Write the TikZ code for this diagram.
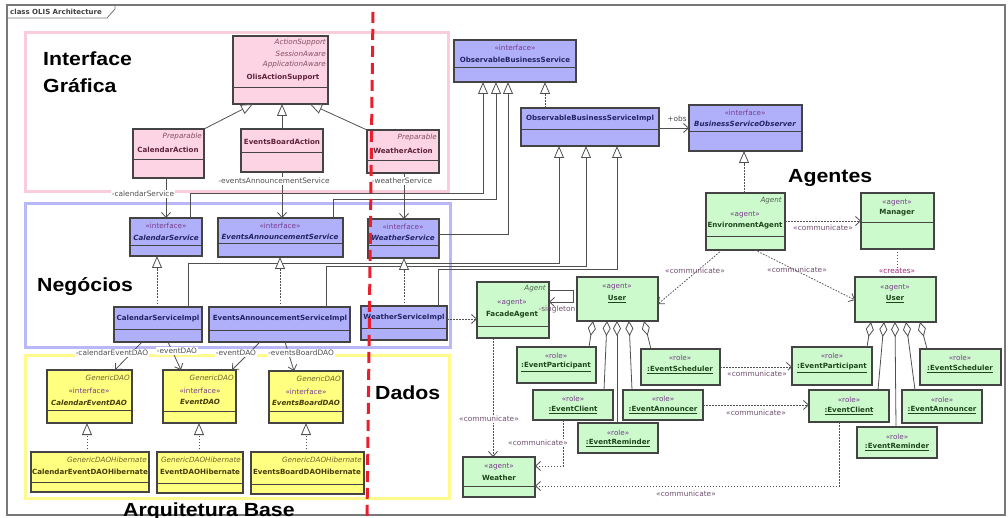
\documentclass[tikz,border=0pt]{standalone}
\usepackage{fontspec}
\usetikzlibrary{arrows.meta,shadows}
\newfontfamily\umlfont{DejaVu Sans}
\newfontfamily\titlefont{Liberation Sans}

\definecolor{pinkfill}{RGB}{253,212,228}
\definecolor{pinkframe}{RGB}{250,205,218}
\definecolor{bluefill}{RGB}{176,176,250}
\definecolor{blueframe}{RGB}{184,184,248}
\definecolor{yelfill}{RGB}{255,255,128}
\definecolor{yelframe}{RGB}{255,250,140}
\definecolor{grnfill}{RGB}{204,250,204}
\definecolor{boxline}{RGB}{68,68,68}
\definecolor{conn}{RGB}{80,80,80}
\definecolor{redline}{RGB}{235,30,45}
\definecolor{framegray}{RGB}{120,120,120}
\definecolor{pinkname}{RGB}{95,35,55}
\definecolor{pinkital}{RGB}{130,80,100}
\definecolor{bluename}{RGB}{35,35,100}
\definecolor{stcol}{RGB}{120,60,140}
\definecolor{yelname}{RGB}{70,60,10}
\definecolor{yelital}{RGB}{110,100,40}
\definecolor{grnname}{RGB}{30,70,30}
\definecolor{grnital}{RGB}{80,100,80}
\definecolor{lblcol}{RGB}{80,80,80}
\definecolor{cmcol}{RGB}{110,80,110}
\definecolor{crcol}{RGB}{160,40,120}

% class box: name, fill, x1, y1, x2, y2, separator y (may be empty)
\newcommand\umlbox[7]{%
  \node[cls, fill=#2, minimum width={(#5-#3)*1pt}, minimum height={(#6-#4)*1pt}]
    (#1) at ({(#3+#5)/2},{(#4+#6)/2}) {};
  \if\relax\detokenize{#7}\relax\else
    \draw[boxline, line width=0.9pt] (#1.west |- 0,#7) -- (#1.east |- 0,#7);
  \fi}

\begin{document}
\begin{tikzpicture}[x=1pt,y=-1pt,
  cls/.style={draw=boxline, line width=1.1pt, inner sep=0pt, outer sep=0pt,
    drop shadow={shadow xshift=1.4pt, shadow yshift=-1.4pt, opacity=0.35}},
  st/.style={font=\umlfont\fontsize{7.2}{8}\selectfont, inner sep=0pt, text=stcol},
  nm/.style={font=\umlfont\bfseries\fontsize{7.1}{8}\selectfont, inner sep=0pt},
  it/.style={font=\umlfont\itshape\fontsize{7.2}{8}\selectfont, inner sep=0pt, anchor=east},
  bit/.style={font=\umlfont\bfseries\itshape\fontsize{7.1}{8}\selectfont, inner sep=0pt},
  lbl/.style={font=\umlfont\fontsize{7.4}{8}\selectfont, inner sep=0.8pt, fill=white, text=lblcol},
  commlbl/.style={lbl, text=cmcol},
  title/.style={font=\titlefont\bfseries\fontsize{19}{22}\selectfont, inner sep=0pt, xscale=1.12, anchor=base west},
  gen/.style={draw=conn, line width=0.8pt, -{Triangle[fill=white, length=12pt, width=10pt]}},
  realz/.style={gen, dash pattern=on 1.5pt off 1.5pt},
  assoc/.style={draw=conn, line width=0.8pt, -{Straight Barb[length=5pt, width=9pt]}},
  dep/.style={assoc, dash pattern=on 1.5pt off 1.5pt},
  aggr/.style={draw=conn, line width=0.8pt, {Diamond[fill=white, length=15pt, width=8pt]}-},
]
\fill[white] (0,0) rectangle (1008,518);
\useasboundingbox (0,0) rectangle (1008,518);

% layer frames
\draw[pinkframe, line width=3pt] (25,33) rectangle (448,192);
\draw[blueframe, line width=3pt] (25,204) rectangle (450,347);
\draw[yelframe, line width=3pt] (25,355) rectangle (449,498);

% diagram frame with its tab
\draw[framegray, line width=1.5pt] (7,5) rectangle (1005,515);
\draw[framegray, line width=0.8pt] (7,18) -- (107,18) -- (115,9) -- (115,5);
\node[font=\umlfont\bfseries\fontsize{7}{8}\selectfont, text=black!75, anchor=west, inner sep=0pt] (frametab) at (10,12) {class OLIS Architecture};

% ---------- presentation layer ----------
\umlbox{olis}{pinkfill}{233}{36}{328}{104}{87}
\umlbox{calact}{pinkfill}{133}{129}{204}{178}{159}
\umlbox{evboard}{pinkfill}{241}{129}{323}{172}{152}
\umlbox{wact}{pinkfill}{367}{130}{439}{173}{160}
\begin{scope}[nm/.append style={text=pinkname}, it/.append style={text=pinkital}]
\node[it] (olis-a) at (326,43) {ActionSupport};
\node[it] (olis-b) at (326,54) {SessionAware};
\node[it] (olis-c) at (326,65) {ApplicationAware};
\node[nm] (olis-n) at (283,78) {OlisActionSupport};
\node[it] (calact-a) at (202,137) {Preparable};
\node[nm] (calact-n) at (168,150) {CalendarAction};
\node[nm] (evboard-n) at (282,142) {EventsBoardAction};
\node[it] (wact-a) at (437,138) {Preparable};
\node[nm] (wact-n) at (403,151) {WeatherAction};
\end{scope}

% ---------- business layer ----------
\umlbox{obs}{bluefill}{454}{40}{576}{82}{67}
\umlbox{obsimpl}{bluefill}{521}{108}{659}{146}{129}
\umlbox{bso}{bluefill}{689}{105}{802}{151}{131}
\umlbox{calsvc}{bluefill}{130}{218}{202}{256}{245}
\umlbox{evsvc}{bluefill}{218}{218}{343}{257}{243}
\umlbox{wsvc}{bluefill}{368}{219}{439}{258}{245}
\umlbox{calimpl}{bluefill}{114}{307}{202}{342}{329}
\umlbox{evimpl}{bluefill}{209}{307}{350}{342}{330}
\umlbox{wimpl}{bluefill}{361}{306}{447}{340}{328}
\begin{scope}[nm/.append style={text=bluename}, bit/.append style={text=bluename}]
\node[st] (obs-s) at (515,48) {«interface»};
\node[nm] (obs-n) at (515,60) {ObservableBusinessService};
\node[nm] (obsimpl-n) at (590,119) {ObservableBusinessServiceImpl};
\node[st] (bso-s) at (745,113) {«interface»};
\node[bit] (bso-n) at (745,124) {BusinessServiceObserver};
\node[st] (calsvc-s) at (166,226) {«interface»};
\node[bit] (calsvc-n) at (166,238) {CalendarService};
\node[st] (evsvc-s) at (280,226) {«interface»};
\node[bit] (evsvc-n) at (280,237) {EventsAnnouncementService};
\node[st] (wsvc-s) at (403,227) {«interface»};
\node[bit] (wsvc-n) at (403,238) {WeatherService};
\node[nm] (calimpl-n) at (158,319) {CalendarServiceImpl};
\node[nm] (evimpl-n) at (280,319) {EventsAnnouncementServiceImpl};
\node[nm] (wimpl-n) at (404,318) {WeatherServiceImpl};
\end{scope}

% ---------- data layer ----------
\umlbox{caldao}{yelfill}{47}{370}{132}{423}{410}
\umlbox{evdao}{yelfill}{163}{370}{236}{423}{411}
\umlbox{ebdao}{yelfill}{269}{371}{343}{423}{411}
\umlbox{calhib}{yelfill}{31}{452}{149}{492}{482}
\umlbox{evhib}{yelfill}{157}{452}{243}{493}{483}
\umlbox{ebhib}{yelfill}{251}{452}{364}{494}{484}
\begin{scope}[nm/.append style={text=yelname}, bit/.append style={text=yelname}, it/.append style={text=yelital}]
\node[it] (caldao-a) at (130,378) {GenericDAO};
\node[st] (caldao-s) at (89,391) {«interface»};
\node[bit] (caldao-n) at (89,403) {CalendarEventDAO};
\node[it] (evdao-a) at (234,378) {GenericDAO};
\node[st] (evdao-s) at (200,391) {«interface»};
\node[bit] (evdao-n) at (200,402) {EventDAO};
\node[it] (ebdao-a) at (341,379) {GenericDAO};
\node[st] (ebdao-s) at (306,392) {«interface»};
\node[bit] (ebdao-n) at (306,403) {EventsBoardDAO};
\node[it] (calhib-a) at (147,460) {GenericDAOHibernate};
\node[nm] (calhib-n) at (90,472) {CalendarEventDAOHibernate};
\node[it] (evhib-a) at (241,460) {GenericDAOHibernate};
\node[nm] (evhib-n) at (200,472) {EventDAOHibernate};
\node[it] (ebhib-a) at (362,460) {GenericDAOHibernate};
\node[nm] (ebhib-n) at (307,472) {EventsBoardDAOHibernate};
\end{scope}

% ---------- agents ----------
\umlbox{facade}{grnfill}{477}{282}{549}{338}{326}
\umlbox{userL}{grnfill}{577}{277}{658}{321}{}
\umlbox{env}{grnfill}{706}{193}{785}{250}{236}
\umlbox{manager}{grnfill}{861}{193}{934}{249}{222}
\umlbox{userR}{grnfill}{855}{277}{936}{322}{}
\umlbox{epL}{grnfill}{517}{347}{596}{383}{}
\umlbox{ecL}{grnfill}{533}{390}{613}{420}{}
\umlbox{erL}{grnfill}{578}{423}{658}{453}{}
\umlbox{esL}{grnfill}{641}{349}{720}{385}{}
\umlbox{eaL}{grnfill}{623}{390}{703}{420}{}
\umlbox{epR}{grnfill}{792}{347}{872}{385}{}
\umlbox{ecR}{grnfill}{809}{390}{889}{422}{}
\umlbox{erR}{grnfill}{857}{427}{937}{458}{}
\umlbox{eaR}{grnfill}{902}{390}{982}{423}{}
\umlbox{esR}{grnfill}{920}{349}{1001}{385}{}
\umlbox{weather}{grnfill}{463}{457}{535}{497}{486}
\begin{scope}[nm/.append style={text=grnname}, it/.append style={text=grnital}]
\node[it] (facade-a) at (546,289) {Agent};
\node[st] (facade-s) at (512,303) {«agent»};
\node[nm] (facade-n) at (512,315) {FacadeAgent};
\node[st] (userL-s) at (617,287) {«agent»};
\node[nm] (userL-n) at (617,299) {\underline{User}};
\node[it] (env-a) at (782,201) {Agent};
\node[st] (env-s) at (745,215) {«agent»};
\node[nm] (env-n) at (745,226) {EnvironmentAgent};
\node[st] (manager-s) at (897,203) {«agent»};
\node[nm] (manager-n) at (897,213) {Manager};
\node[st] (userR-s) at (895,288) {«agent»};
\node[nm] (userR-n) at (895,299) {\underline{User}};
\node[st] (epL-s) at (556,356) {«role»};
\node[nm] (epL-n) at (556,367) {\underline{:EventParticipant}};
\node[st] (ecL-s) at (573,399) {«role»};
\node[nm] (ecL-n) at (573,410) {\underline{:EventClient}};
\node[st] (erL-s) at (618,433) {«role»};
\node[nm] (erL-n) at (618,443) {\underline{:EventReminder}};
\node[st] (esL-s) at (680,358) {«role»};
\node[nm] (esL-n) at (680,370) {\underline{:EventScheduler}};
\node[st] (eaL-s) at (663,399) {«role»};
\node[nm] (eaL-n) at (663,410) {\underline{:EventAnnouncer}};
\node[st] (epR-s) at (832,356) {«role»};
\node[nm] (epR-n) at (832,368) {\underline{:EventParticipant}};
\node[st] (ecR-s) at (849,400) {«role»};
\node[nm] (ecR-n) at (849,411) {\underline{:EventClient}};
\node[st] (erR-s) at (897,437) {«role»};
\node[nm] (erR-n) at (897,447) {\underline{:EventReminder}};
\node[st] (eaR-s) at (942,400) {«role»};
\node[nm] (eaR-n) at (942,410) {\underline{:EventAnnouncer}};
\node[st] (esR-s) at (960,358) {«role»};
\node[nm] (esR-n) at (960,369) {\underline{:EventScheduler}};
\node[st] (weather-s) at (499,467) {«agent»};
\node[nm] (weather-n) at (499,478) {Weather};
\end{scope}

% ---------- generalizations ----------
\draw[gen] (calact.north east) -- (olis.south -| 253,0);
\draw[gen] (evboard.north) -- (olis.south -| evboard.north);
\draw[gen] (wact.north west) -- (olis.south -| 310,0);
\draw[gen] (calsvc.north -| 190,0) |- (483,193) -- (obs.south -| 483,0);
\draw[gen] (evsvc.north -| 333,0) |- (496,199) -- (obs.south -| 496,0);
\draw[gen] (wsvc.east |- 0,234) -| (obs.south -| 508,0);
\draw[gen] (calimpl.north -| 188,0) |- (559,263) -- (obsimpl.south -| 559,0);
\draw[gen] (evimpl.north -| 326,0) |- (586,266) -- (obsimpl.south -| 586,0);
\draw[gen] (wimpl.north -| 438,0) |- (617,269) -- (obsimpl.south -| 617,0);

% ---------- realizations ----------
\draw[realz] (obsimpl.north -| 545,0) -- (obs.south -| 545,0);
\draw[realz] (env.north -| 744,0) -- (bso.south -| 744,0);
\draw[realz] (calimpl.north -| 157,0) -- (calsvc.south -| 157,0);
\draw[realz] (evimpl.north -| 280,0) -- (evsvc.south -| 280,0);
\draw[realz] (wimpl.north -| 404,0) -- (wsvc.south -| 404,0);
\draw[realz] (calhib.north -| 87,0) -- (caldao.south -| 87,0);
\draw[realz] (evhib.north -| 199,0) -- (evdao.south -| 199,0);
\draw[realz] (ebhib.north -| 306,0) -- (ebdao.south -| 306,0);

% ---------- associations ----------
\draw[assoc] (calact.south -| 166,0) -- (calsvc.north -| 166,0);
\draw[assoc] (evboard.south -| 282,0) -- (evsvc.north -| 282,0);
\draw[assoc] (wact.south -| 404,0) -- (wsvc.north -| 404,0);
\draw[assoc] (obsimpl.east |- 0,128) -- (bso.west |- 0,128);
\draw[assoc] (calimpl.south -| 142,0) -- (caldao.north -| 115,0);
\draw[assoc] (calimpl.south -| 168,0) -- (evdao.north -| 181,0);
\draw[assoc] (evimpl.south -| 260,0) -- (evdao.north -| 232,0);
\draw[assoc] (evimpl.south -| 285,0) -- (ebdao.north -| 294,0);
\draw[assoc] (facade.east |- 0,290) -| (573,302) -- (facade.east |- 0,302);

% ---------- dependencies ----------
\draw[dep] (wimpl.east |- 0,319) -- (facade.west |- 0,319);
\draw[dep] (env.east |- 0,221) -- (manager.west |- 0,221);
\draw[dep] (env.south -| 755,0) -- (userR.west |- 0,300);
\draw[dep] (env.south -| 722,0) -- (userL.east |- 0,304);
\draw[conn, line width=0.8pt, dash pattern=on 1.5pt off 1.5pt] (manager.south) -- (userR.north -| manager.south);
\draw[dep] (esL.east |- 0,367) -- (epR.west |- 0,367);
\draw[dep] (eaL.east |- 0,405) -- (ecR.west |- 0,405);
\draw[dep] (facade.south -| 493,0) -- (weather.north -| 493,0);
\draw[dep] (ecL.south -| 563,0) |- (weather.east |- 0,466);
\draw[dep] (ecR.south -| 839,0) |- (weather.east |- 0,486);

% ---------- aggregations ----------
\draw[aggr] (userL.south -| 593,0) -- (epL.north -| 589,0);
\draw[aggr] (userL.south -| 607,0) -- (ecL.north -| 604,0);
\draw[aggr] (userL.south -| 617,0) -- (erL.north -| 617,0);
\draw[aggr] (userL.south -| 629,0) -- (eaL.north -| 632,0);
\draw[aggr] (userL.south -| 644,0) -- (esL.north -| 651,0);
\draw[aggr] (userR.south -| 871,0) -- (epR.north -| 867,0);
\draw[aggr] (userR.south -| 884,0) -- (ecR.north -| 878,0);
\draw[aggr] (userR.south -| 895,0) -- (erR.north -| 896,0);
\draw[aggr] (userR.south -| 906,0) -- (eaR.north -| 915,0);
\draw[aggr] (userR.south -| 920,0) -- (esR.north -| 927,0);

% ---------- connector labels ----------
\node[lbl] (l-cs) at (143,194) {-calendarService};
\node[lbl] (l-eas) at (274,181) {-eventsAnnouncementService};
\node[lbl] (l-ws) at (402,181) {-weatherService};
\node[lbl] (l-obs) at (677,119) {+obs};
\node[lbl] (l-ced) at (112,353) {-calendarEventDAO};
\node[lbl] (l-ed1) at (177,351) {-eventDAO};
\node[lbl] (l-ed2) at (236,353) {-eventDAO};
\node[lbl] (l-ebd) at (301,353) {-eventsBoardDAO};
\node[commlbl, fill=none] (l-sing) at (557,309) {-singleton};
\node[commlbl] (c-env-man) at (823,228) {«communicate»};
\node[commlbl, fill=none] (c-env-ur) at (797,270) {«communicate»};
\node[commlbl, fill=none] (c-env-ul) at (695,271) {«communicate»};
\node[commlbl, text=crcol] (c-creates) at (897,271) {«creates»};
\node[commlbl] (c-es-ep) at (757,374) {«communicate»};
\node[commlbl] (c-ea-ec) at (756,413) {«communicate»};
\node[commlbl] (c-fa-we) at (489,419) {«communicate»};
\node[commlbl] (c-ecl-we) at (538,443) {«communicate»};
\node[commlbl] (c-ecr-we) at (686,494) {«communicate»};

% ---------- layer boundary ----------
\draw[redline, line width=3pt, dash pattern=on 11pt off 6pt] (373,12) -- (367,518);

% ---------- layer titles ----------
\node[title] (t-if1) at (43,66) {Interface};
\node[title] (t-if2) at (43,93) {Gráfica};
\node[title] (t-neg) at (37,291) {Negócios};
\node[title] (t-dad) at (375,399) {Dados};
\node[title] (t-age) at (788,183) {Agentes};
\node[title] (t-arq) at (123,516) {Arquitetura Base};
\end{tikzpicture}
\end{document}
